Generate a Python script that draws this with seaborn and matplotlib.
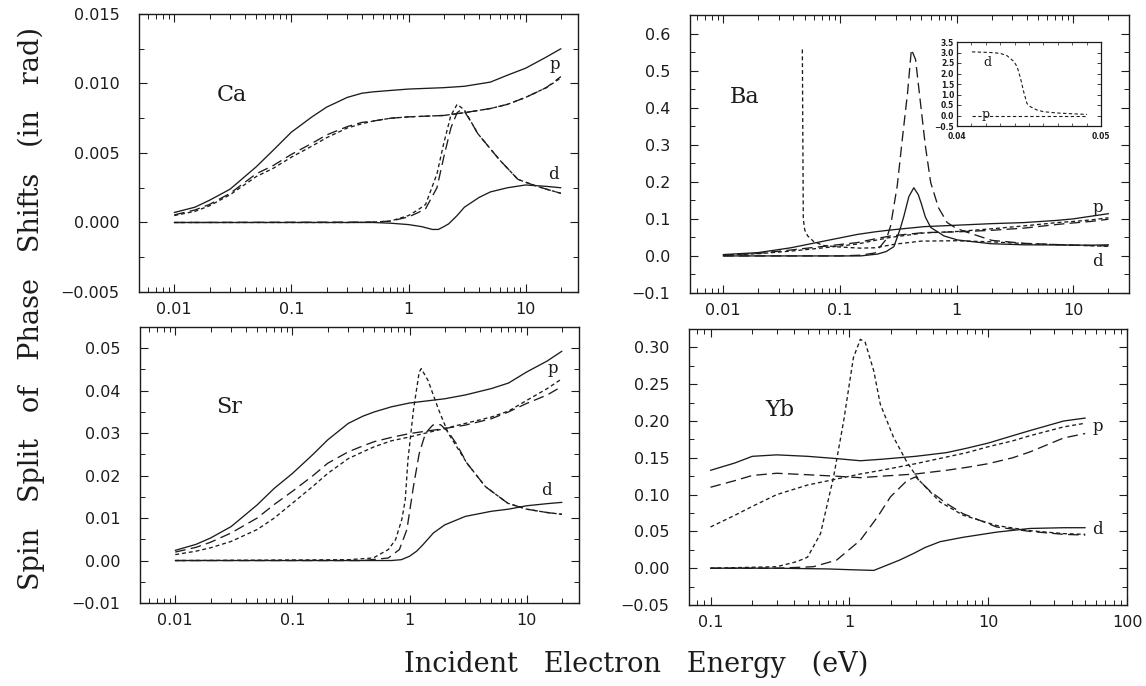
import numpy as np
import pandas as pd
import matplotlib
matplotlib.use("Agg")
import matplotlib.pyplot as plt
import seaborn as sns
from matplotlib.ticker import (FuncFormatter, AutoMinorLocator, LogLocator,
                               NullFormatter, MultipleLocator)

# ---------------- data ----------------
# Ca panel
CA_E_P = [0.01, 0.015, 0.02, 0.03, 0.05, 0.07, 0.1, 0.15, 0.2, 0.3, 0.4, 0.5, 0.7, 1, 2, 3, 5, 7, 10, 15, 20]
CA_P_SOLID = [0.00072, 0.0011, 0.0016, 0.0024, 0.0040, 0.0052, 0.0065, 0.0076, 0.0083, 0.0090, 0.0093,
              0.0094, 0.0095, 0.0096, 0.0097, 0.0098, 0.0101, 0.0106, 0.0111, 0.0119, 0.0125]
CA_P_LONG = [0.00055, 0.0009, 0.0013, 0.0021, 0.0035, 0.0041, 0.0049, 0.0057, 0.0063, 0.0069, 0.0072,
             0.0073, 0.0075, 0.0076, 0.0077, 0.0079, 0.0082, 0.0085, 0.0090, 0.0097, 0.0105]
CA_P_SHORT = [0.0005, 0.0008, 0.0012, 0.0020, 0.0033, 0.0039, 0.0047, 0.0055, 0.0061, 0.0068, 0.0071,
              0.0073, 0.0075, 0.0076, 0.0077, 0.0079, 0.0082, 0.0085, 0.0090, 0.0097, 0.0104]
CA_E_DS = [0.01, 0.3, 0.5, 0.7, 1.0, 1.2, 1.4, 1.75, 2.0, 2.3, 2.6, 3.0, 3.5, 3.9, 5, 6, 8.6, 11.6, 15, 20]
CA_D_SHORT = [0.0, 0.0, 0.00003, 0.0001, 0.0005, 0.0009, 0.0013, 0.0035, 0.0057, 0.0077, 0.0085, 0.0081,
              0.0071, 0.0064, 0.0053, 0.0045, 0.0031, 0.0027, 0.0024, 0.0021]
CA_E_DL = [0.01, 0.5, 0.7, 1.0, 1.2, 1.4, 1.75, 2.0, 2.3, 2.6, 2.8, 3.0, 3.5, 3.9, 5, 6, 8.6, 11.6, 15, 20]
CA_D_LONG = [0.0, 0.00003, 0.0001, 0.0004, 0.0007, 0.0010, 0.0025, 0.0047, 0.0068, 0.0079, 0.0081, 0.0080,
             0.0071, 0.0064, 0.0053, 0.0045, 0.0031, 0.0027, 0.0024, 0.0021]
CA_E_DD = [0.01, 0.3, 0.5, 0.7, 1.0, 1.3, 1.6, 1.8, 2.0, 2.2, 2.6, 3, 4, 5, 7, 10, 15, 20]
CA_D_SOLID = [0.0, 0.0, 0.0, -0.00005, -0.00015, -0.0003, -0.0005, -0.0005, -0.0003, -0.0001, 0.0005,
              0.0011, 0.0018, 0.0022, 0.0025, 0.0027, 0.0026, 0.0025]

# Sr panel
SR_E_P = [0.01, 0.015, 0.02, 0.03, 0.05, 0.07, 0.1, 0.15, 0.2, 0.3, 0.4, 0.5, 0.7, 1, 2, 3, 5, 7, 10, 15, 20]
SR_P_SOLID = [0.0024, 0.0038, 0.0053, 0.0080, 0.0131, 0.0170, 0.0205, 0.0250, 0.0284, 0.0323, 0.0340,
              0.0350, 0.0362, 0.0371, 0.0381, 0.0390, 0.0405, 0.0418, 0.0444, 0.0470, 0.0493]
SR_P_LONG = [0.0020, 0.0031, 0.0043, 0.0065, 0.0100, 0.0132, 0.0163, 0.0200, 0.0229, 0.0256, 0.0270,
             0.0280, 0.0290, 0.0299, 0.0311, 0.0319, 0.0334, 0.0350, 0.0370, 0.0390, 0.0410]
SR_P_SHORT = [0.0014, 0.0022, 0.0030, 0.0045, 0.0073, 0.0100, 0.0135, 0.0175, 0.0205, 0.0240, 0.0256,
              0.0268, 0.0282, 0.0291, 0.0311, 0.0323, 0.0338, 0.0352, 0.0377, 0.0405, 0.0428]
SR_E_DS = [0.01, 0.3, 0.49, 0.66, 0.76, 0.86, 0.92, 0.97, 1.08, 1.21, 1.26, 1.44, 1.78, 2.14, 3.1, 4.45,
           6.9, 10, 15, 20]
SR_D_SHORT = [0.0, 0.0002, 0.0006, 0.0026, 0.0049, 0.0097, 0.0143, 0.0237, 0.0354, 0.0444, 0.0452, 0.0424,
              0.0354, 0.0300, 0.0229, 0.0174, 0.0135, 0.0121, 0.0113, 0.0109]
SR_E_DL = [0.01, 0.4, 0.66, 0.82, 0.95, 1.08, 1.21, 1.37, 1.58, 1.84, 2.14, 2.5, 3.1, 4.45, 6.9, 10, 15, 20]
SR_D_LONG = [0.0, 0.0, 0.0006, 0.0026, 0.0073, 0.0174, 0.0252, 0.0300, 0.0319, 0.0320, 0.0303, 0.0276,
             0.0229, 0.0174, 0.0135, 0.0121, 0.0113, 0.0109]
SR_E_DD = [0.01, 0.3, 0.7, 0.85, 1.0, 1.15, 1.3, 1.6, 2, 3, 5, 7, 10, 15, 20]
SR_D_SOLID = [0.0, 0.0, 0.0, 0.0002, 0.0010, 0.0022, 0.0037, 0.0065, 0.0084, 0.0104, 0.0116, 0.0121,
              0.0129, 0.0134, 0.0137]

# Ba panel
BA_E_P = [0.01, 0.02, 0.038, 0.073, 0.141, 0.2, 0.272, 0.526, 1.02, 1.96, 3.78, 7.3, 10, 14.1, 20]
BA_P_SOLID = [0.0036, 0.009, 0.022, 0.040, 0.058, 0.065, 0.070, 0.079, 0.083, 0.087, 0.090, 0.096, 0.100,
              0.107, 0.114]
BA_P_LONG = [0.002, 0.007, 0.016, 0.026, 0.036, 0.046, 0.054, 0.063, 0.065, 0.069, 0.075, 0.085, 0.089,
             0.093, 0.099]
BA_P_SHORT = [0.002, 0.006, 0.013, 0.022, 0.032, 0.042, 0.050, 0.062, 0.066, 0.073, 0.081, 0.090, 0.093,
              0.097, 0.103]
BA_E_DS = [0.0477, 0.0486, 0.050, 0.053, 0.060, 0.073, 0.1, 0.15, 0.2, 0.3, 0.5, 1.0, 2.0, 4.0, 10, 20]
BA_D_SHORT = [0.557, 0.10, 0.07, 0.054, 0.038, 0.028, 0.024, 0.021, 0.022, 0.032, 0.040, 0.041, 0.038,
              0.033, 0.029, 0.026]
BA_E_DL = [0.01, 0.1, 0.15, 0.2, 0.25, 0.272, 0.31, 0.345, 0.38, 0.41, 0.445, 0.49, 0.54, 0.6, 0.7,
           0.83, 1.0, 1.2, 2.0, 3.8, 10, 20]
BA_D_LONG = [0.0, 0.0, 0.002, 0.008, 0.045, 0.081, 0.189, 0.323, 0.44, 0.557, 0.53, 0.414, 0.297,
             0.198, 0.13, 0.09, 0.074, 0.065, 0.042, 0.034, 0.029, 0.027]
BA_E_DD = [0.01, 0.15, 0.21, 0.25, 0.29, 0.31, 0.33, 0.354, 0.39, 0.43, 0.47, 0.5, 0.54, 0.6, 0.78,
           1.02, 1.96, 3.78, 14, 20]
BA_D_SOLID = [0.0, 0.0, 0.005, 0.012, 0.025, 0.050, 0.075, 0.108, 0.160, 0.184, 0.165, 0.140, 0.105,
              0.077, 0.054, 0.043, 0.033, 0.030, 0.029, 0.030]
# Ba inset
IN_E_D = [0.04104, 0.04231, 0.0430, 0.04347, 0.04394, 0.04417, 0.0444, 0.04463, 0.04486, 0.04509,
          0.04556, 0.04602, 0.04694, 0.0481, 0.04903]
IN_D = [3.03, 3.0, 2.96, 2.85, 2.58, 2.33, 1.80, 1.13, 0.57, 0.42, 0.26, 0.18, 0.12, 0.08, 0.05]
IN_E_P = [0.04104, 0.0450, 0.04903]
IN_P = [0.0, 0.0, 0.0]

# Yb panel
YB_E_P = [0.1, 0.15, 0.2, 0.3, 0.5, 0.8, 1.2, 1.7, 3, 5, 7, 10, 15, 20, 35, 50]
YB_P_SOLID = [0.133, 0.143, 0.152, 0.154, 0.152, 0.149, 0.146, 0.148, 0.152, 0.157, 0.163, 0.170,
              0.180, 0.187, 0.200, 0.204]
YB_P_LONG = [0.110, 0.119, 0.126, 0.129, 0.127, 0.125, 0.123, 0.125, 0.128, 0.133, 0.137, 0.142,
             0.150, 0.158, 0.177, 0.183]
YB_P_SHORT = [0.056, 0.072, 0.084, 0.100, 0.113, 0.121, 0.128, 0.133, 0.142, 0.151, 0.157, 0.165,
              0.173, 0.180, 0.192, 0.197]
YB_E_DS = [0.1, 0.3, 0.42, 0.5, 0.62, 0.77, 0.91, 1.07, 1.2, 1.3, 1.5, 1.67, 2.08, 2.6, 3.2, 4.5, 6.6,
           11.5, 20, 35, 50]
YB_D_SHORT = [0.0, 0.002, 0.009, 0.015, 0.047, 0.124, 0.200, 0.286, 0.311, 0.307, 0.268, 0.223, 0.178,
              0.144, 0.119, 0.090, 0.072, 0.058, 0.051, 0.047, 0.046]
YB_E_DL = [0.1, 0.3, 0.55, 0.81, 1.2, 1.6, 1.98, 2.6, 3.0, 3.8, 5, 6.6, 11.5, 20, 35, 50]
YB_D_LONG = [0.0, 0.0, 0.002, 0.011, 0.038, 0.070, 0.097, 0.119, 0.124, 0.105, 0.088, 0.074, 0.056,
             0.050, 0.046, 0.045]
YB_E_DD = [0.1, 0.3, 0.7, 1.0, 1.5, 1.86, 2.3, 2.9, 3.5, 4.5, 6.6, 11.5, 20, 35, 50]
YB_D_SOLID = [0.0, 0.0, -0.001, -0.002, -0.003, 0.004, 0.011, 0.020, 0.028, 0.036, 0.042, 0.049, 0.054,
              0.055, 0.055]

PANEL_NAMES = ["Ca", "Ba", "Sr", "Yb"]
XLABEL = "Incident   Electron   Energy   (eV)"
YLABEL = "Spin   Split   of   Phase   Shifts   (in   rad)"

# ---------------- style ----------------
sns.set_theme(style="ticks")
plt.rcParams["font.family"] = ["DejaVu Sans"]
plt.rcParams["axes.linewidth"] = 1.0
plt.rcParams["axes.edgecolor"] = "#222222"

INK = "#1c1c1c"
SOLID = "-"
LONG = (0, (8, 4))
SHORT = (0, (3, 2.2))

fig = plt.figure(figsize=(11.46, 6.86), dpi=100)
fig.patch.set_facecolor("white")

W, H = 1146.0, 686.0
def rect(l, t, r, b):
    return [l / W, 1 - b / H, (r - l) / W, (b - t) / H]

ax_ca = fig.add_axes(rect(139, 14, 578, 292))
ax_ba = fig.add_axes(rect(690, 15, 1129, 293))
ax_sr = fig.add_axes(rect(140, 327, 579, 603))
ax_yb = fig.add_axes(rect(689, 329, 1127, 605))
ax_in = fig.add_axes(rect(957, 42, 1101, 126))


def curve(ax, x, y, ls, lw=0.95):
    sns.lineplot(x=x, y=y, ax=ax, color=INK, linewidth=lw, linestyle=ls,
                 estimator=None, sort=False)


def fmt(decimals):
    def f(v, pos):
        s = f"{abs(v):.{decimals}f}"
        return ("\u2212" + s) if v < -1e-12 else s
    return FuncFormatter(f)


def style_axis(ax, xlim, ylim, xticks, xticklabels, yticks, ydec):
    ax.set_xscale("log")
    ax.set_xlim(*xlim)
    ax.set_ylim(*ylim)
    ax.set_xticks(xticks)
    ax.set_xticklabels(xticklabels)
    ax.xaxis.set_minor_locator(LogLocator(base=10, subs=np.arange(2, 10)))
    ax.xaxis.set_minor_formatter(NullFormatter())
    ax.set_yticks(yticks)
    ax.yaxis.set_major_formatter(fmt(ydec))
    ax.yaxis.set_minor_locator(AutoMinorLocator(2))
    ax.tick_params(which="both", direction="in", top=True, right=True, colors=INK)
    ax.tick_params(which="major", length=6, width=0.8)
    ax.tick_params(which="minor", length=3.5, width=0.7)
    ax.tick_params(axis="y", which="major", pad=14, labelsize=11.5)
    ax.tick_params(axis="x", which="major", pad=7, labelsize=11.5)
    ax.set_xlabel("")
    ax.set_ylabel("")
    for s in ax.spines.values():
        s.set_linewidth(1.0)
        s.set_color(INK)


# Ca
curve(ax_ca, CA_E_P, CA_P_SOLID, SOLID)
curve(ax_ca, CA_E_P, CA_P_LONG, LONG)
curve(ax_ca, CA_E_P, CA_P_SHORT, SHORT)
curve(ax_ca, CA_E_DS, CA_D_SHORT, SHORT)
curve(ax_ca, CA_E_DL, CA_D_LONG, LONG)
curve(ax_ca, CA_E_DD, CA_D_SOLID, SOLID)
style_axis(ax_ca, (0.005, 28), (-0.005, 0.015), [0.01, 0.1, 1, 10], ["0.01", "0.1", "1", "10"],
           [-0.005, 0.0, 0.005, 0.010, 0.015], 3)

# Sr
curve(ax_sr, SR_E_P, SR_P_SOLID, SOLID)
curve(ax_sr, SR_E_P, SR_P_LONG, LONG)
curve(ax_sr, SR_E_P, SR_P_SHORT, SHORT)
curve(ax_sr, SR_E_DS, SR_D_SHORT, SHORT)
curve(ax_sr, SR_E_DL, SR_D_LONG, LONG)
curve(ax_sr, SR_E_DD, SR_D_SOLID, SOLID)
style_axis(ax_sr, (0.005, 28), (-0.01, 0.055), [0.01, 0.1, 1, 10], ["0.01", "0.1", "1", "10"],
           [-0.01, 0.0, 0.01, 0.02, 0.03, 0.04, 0.05], 2)

# Ba
curve(ax_ba, BA_E_P, BA_P_SOLID, SOLID)
curve(ax_ba, BA_E_P, BA_P_LONG, LONG)
curve(ax_ba, BA_E_P, BA_P_SHORT, SHORT)
curve(ax_ba, BA_E_DS, BA_D_SHORT, SHORT)
curve(ax_ba, BA_E_DL, BA_D_LONG, LONG)
curve(ax_ba, BA_E_DD, BA_D_SOLID, SOLID)
style_axis(ax_ba, (0.0052, 30), (-0.1, 0.65), [0.01, 0.1, 1, 10], ["0.01", "0.1", "1", "10"],
           [-0.1, 0.0, 0.1, 0.2, 0.3, 0.4, 0.5, 0.6], 1)

# Yb
curve(ax_yb, YB_E_P, YB_P_SOLID, SOLID)
curve(ax_yb, YB_E_P, YB_P_LONG, LONG)
curve(ax_yb, YB_E_P, YB_P_SHORT, SHORT)
curve(ax_yb, YB_E_DS, YB_D_SHORT, SHORT)
curve(ax_yb, YB_E_DL, YB_D_LONG, LONG)
curve(ax_yb, YB_E_DD, YB_D_SOLID, SOLID)
style_axis(ax_yb, (0.07, 100), (-0.05, 0.325), [0.1, 1, 10, 100], ["0.1", "1", "10", "100"],
           [-0.05, 0.0, 0.05, 0.10, 0.15, 0.20, 0.25, 0.30], 2)

# inset
curve(ax_in, IN_E_D, IN_D, SHORT, lw=0.8)
curve(ax_in, IN_E_P, IN_P, SHORT, lw=0.8)
ax_in.set_xlim(0.04, 0.05)
ax_in.set_ylim(-0.5, 3.5)
ax_in.set_xticks([0.04, 0.05])
ax_in.set_xticklabels(["0.04", "0.05"])
ax_in.xaxis.set_minor_locator(MultipleLocator(0.001))
ax_in.set_yticks(np.arange(-0.5, 3.51, 0.5))
ax_in.yaxis.set_major_formatter(fmt(1))
ax_in.tick_params(which="both", direction="in", top=True, right=True, colors=INK)
ax_in.tick_params(which="major", length=3, width=0.6, labelsize=5.5)
ax_in.tick_params(axis="y", which="major", pad=2)
ax_in.tick_params(axis="x", which="major", pad=4)
ax_in.tick_params(which="minor", length=2, width=0.5)
for lab in ax_in.get_xticklabels() + ax_in.get_yticklabels():
    lab.set_fontweight("bold")
ax_in.set_xlabel("")
ax_in.set_ylabel("")
for s in ax_in.spines.values():
    s.set_linewidth(0.9)
    s.set_color(INK)

# text labels
SERIF = ["DejaVu Serif"]
def tag(ax, fx, fy, s, size):
    ax.text(fx, fy, s, transform=ax.transAxes, ha="center", va="center",
            fontsize=size, family=SERIF, color=INK)

tag(ax_ca, 0.212, 0.709, PANEL_NAMES[0], 16)
tag(ax_ba, 0.124, 0.705, PANEL_NAMES[1], 16)
tag(ax_sr, 0.203, 0.710, PANEL_NAMES[2], 16)
tag(ax_yb, 0.208, 0.707, PANEL_NAMES[3], 16)
tag(ax_ca, 0.948, 0.817, "p", 12)
tag(ax_ca, 0.943, 0.421, "d", 12)
tag(ax_sr, 0.941, 0.851, "p", 12)
tag(ax_sr, 0.925, 0.406, "d", 12)
tag(ax_ba, 0.929, 0.309, "p", 12)
tag(ax_ba, 0.929, 0.112, "d", 12)
tag(ax_yb, 0.934, 0.645, "p", 12)
tag(ax_yb, 0.932, 0.275, "d", 12)
tag(ax_in, 0.21, 0.75, "d", 9)
tag(ax_in, 0.20, 0.14, "p", 9)

fig.text(636 / W, 1 - 664 / H, XLABEL, ha="center", va="center", fontsize=19.5,
         family=["DejaVu Serif"], color=INK)
fig.text(31 / W, 1 - 308 / H, YLABEL, ha="center", va="center", rotation=90, fontsize=19.5,
         family=["DejaVu Serif"], color=INK)

fig.savefig("out.png", dpi=100, facecolor="white")
